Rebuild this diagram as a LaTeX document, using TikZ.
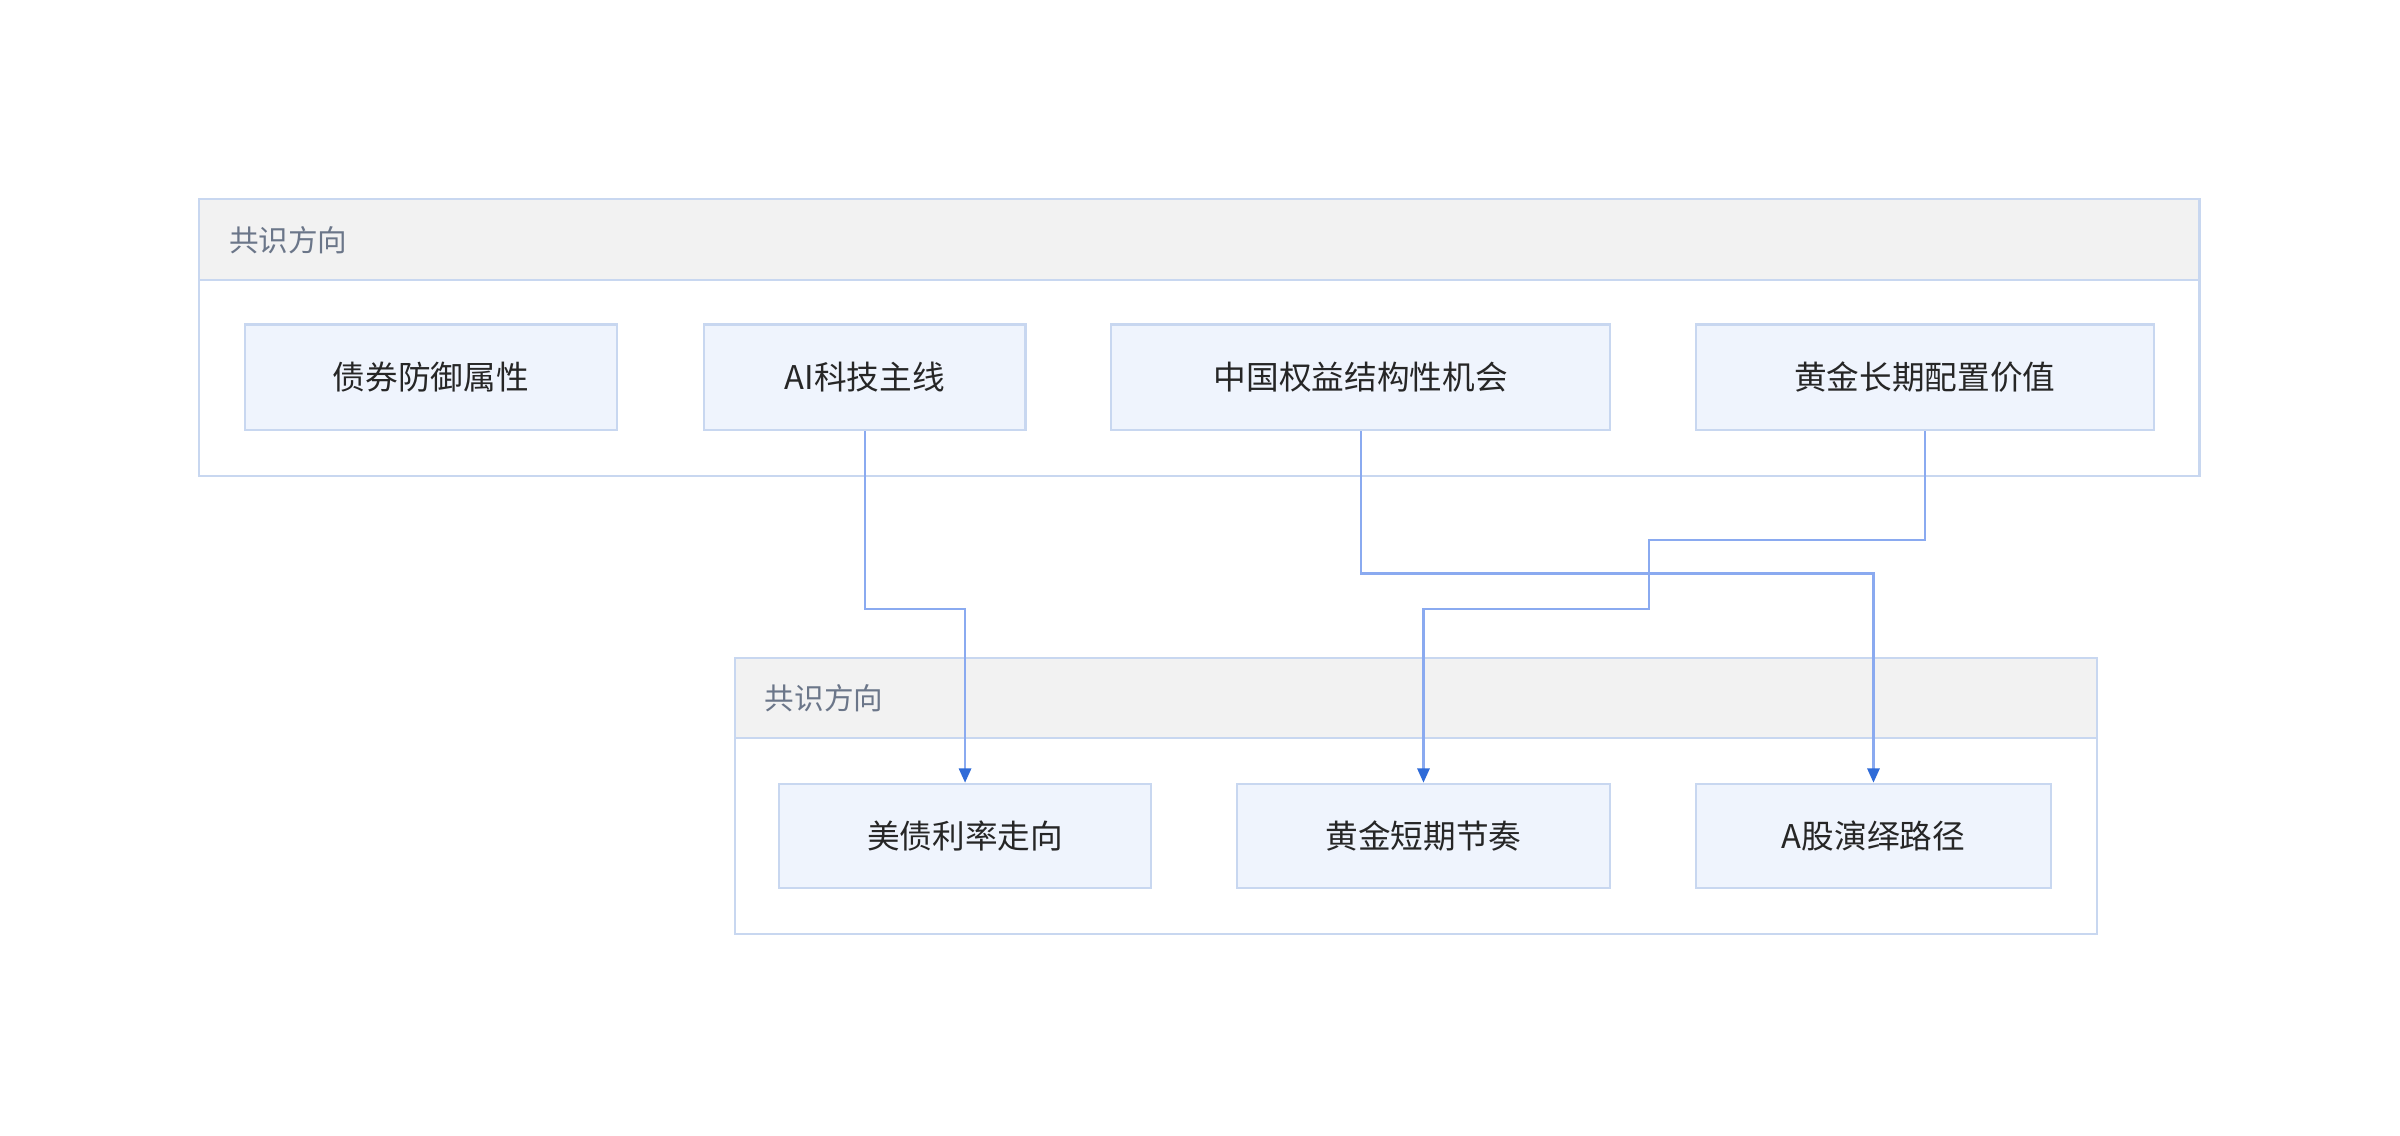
\documentclass[tikz,border=0pt]{standalone}
\usepackage{fontspec}
\setmainfont{Noto Sans CJK SC}
\usetikzlibrary{arrows.meta}
\definecolor{bd}{HTML}{C8D7F0}
\definecolor{nf}{HTML}{EFF4FD}
\definecolor{hf}{HTML}{F2F2F2}
\definecolor{tt}{HTML}{6B7689}
\definecolor{ln}{HTML}{8AAAF0}
\definecolor{tip}{HTML}{2F6BD8}
\begin{document}
\begin{tikzpicture}[x=0.75pt,y=-0.75pt,
  box/.style={draw=bd,line width=1pt,fill=nf,inner sep=0pt,font=\fontsize{16}{18}\selectfont,text=black!85},
  grp/.style={draw=bd,line width=1pt},
  hdr/.style={draw=bd,line width=1pt,fill=hf},
  gt/.style={anchor=west,text=tt,font=\fontsize{14.5}{16}\selectfont},
  e/.style={draw=ln,line width=1.1pt,-{Triangle[length=7pt,width=6pt,fill=tip,color=tip]}}]
\useasboundingbox (0,0) rectangle (1568,742);
% group 1
\draw[grp,fill=white] (130,130) rectangle (1437,311);
\draw[hdr] (130,130) rectangle (1437,183);
\node[gt] (g1) at (145,157) {共识方向};
\node[box,minimum width=243pt*0.75,minimum height=69pt*0.75] (bond) at (281.5,246.5) {债券防御属性};
\node[box,minimum width=210pt*0.75,minimum height=69pt*0.75] (ai) at (565,246.5) {AI科技主线};
\node[box,minimum width=326pt*0.75,minimum height=69pt*0.75] (cn) at (889,246.5) {中国权益结构性机会};
\node[box,minimum width=299pt*0.75,minimum height=69pt*0.75] (gl) at (1257.5,246.5) {黄金长期配置价值};
% group 2
\draw[grp,fill=white] (480,430) rectangle (1370,610);
\draw[hdr] (480,430) rectangle (1370,482);
\node[gt] (g2) at (495,456) {共识方向};
\node[box,minimum width=243pt*0.75,minimum height=68pt*0.75] (us) at (630.5,546) {美债利率走向};
\node[box,minimum width=244pt*0.75,minimum height=68pt*0.75] (gs) at (930,546) {黄金短期节奏};
\node[box,minimum width=232pt*0.75,minimum height=68pt*0.75] (ag) at (1224,546) {A股演绎路径};
% edges
\draw[e] (ai.south) -- ++(0,116) -| (us.north);
\draw[e] (cn.south) -- ++(0,93) -| (ag.north);
\draw[e] (gl.south) -- ++(0,71) -- ++(-180,0) -- ++(0,45) -| (gs.north);
\end{tikzpicture}
\end{document}
